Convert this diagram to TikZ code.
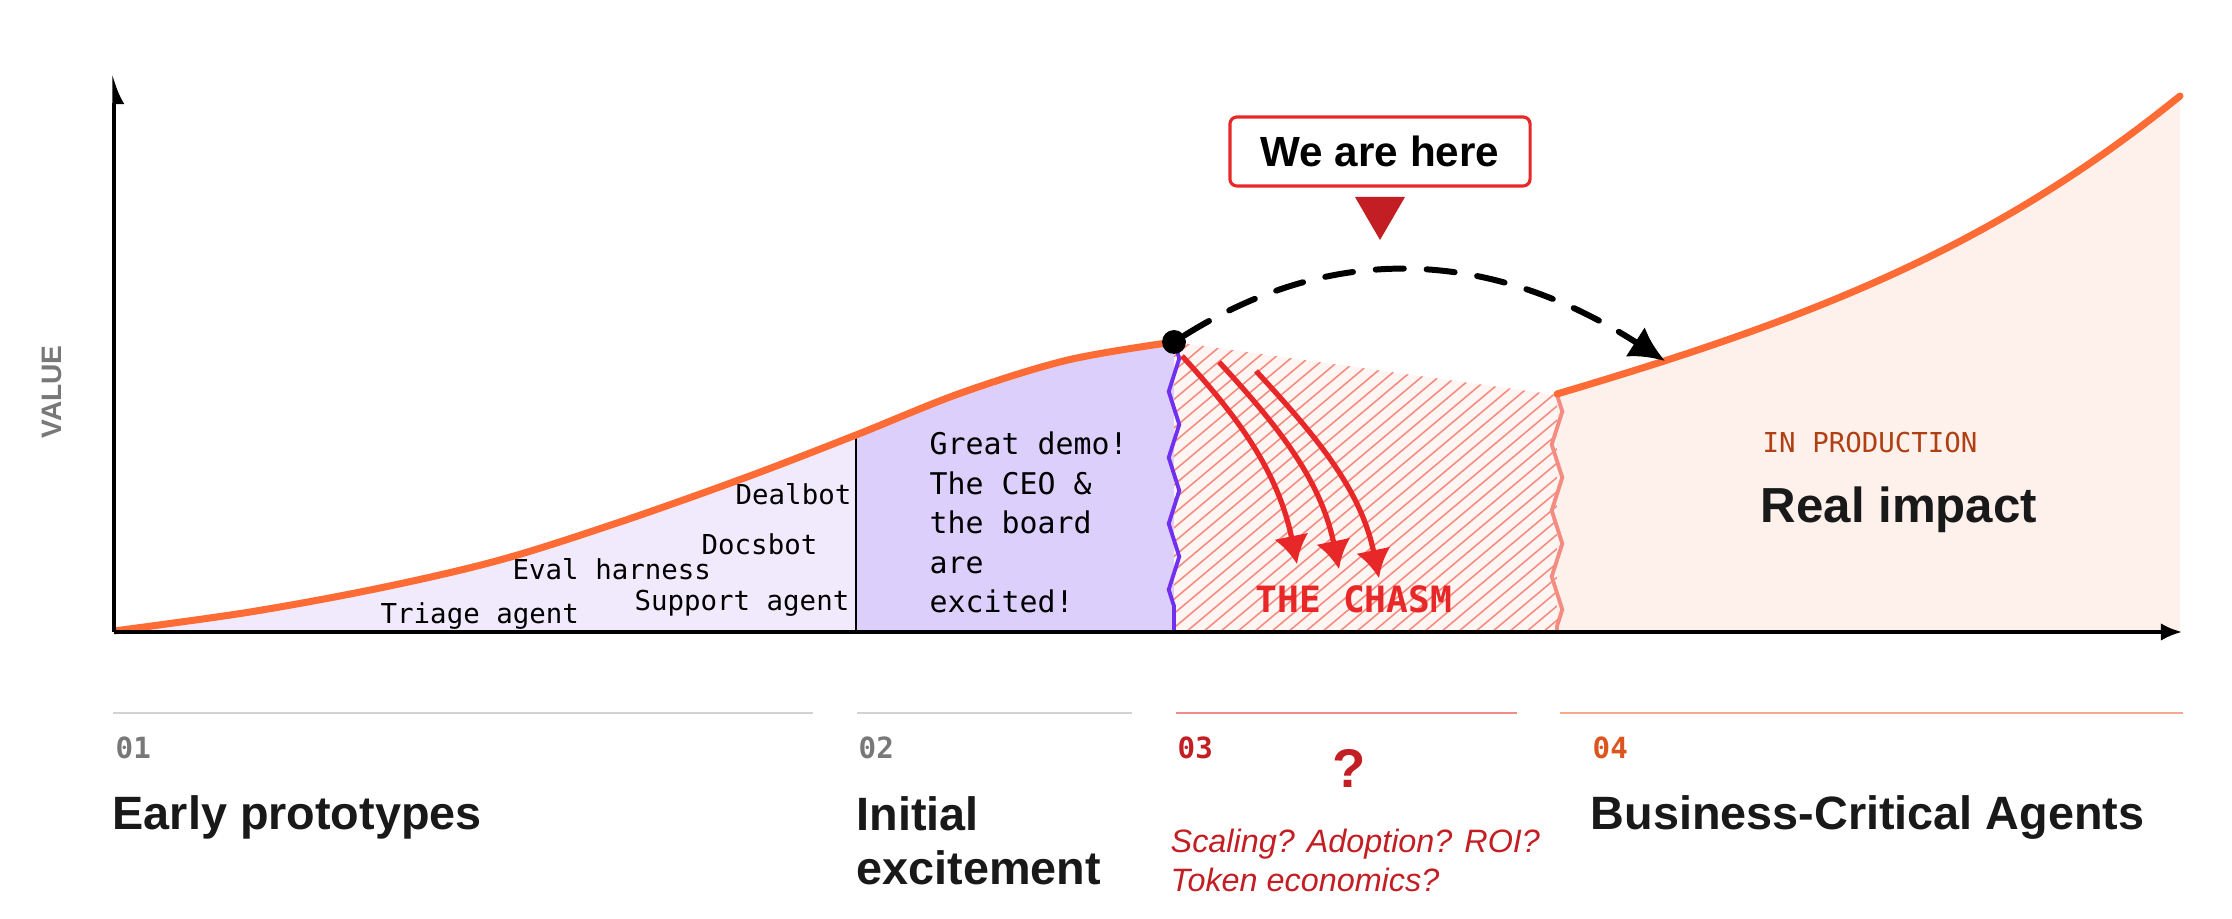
\documentclass[tikz,border=0pt]{standalone}
\usepackage{fontspec}
\setmainfont{Liberation Sans}
\setmonofont{DejaVu Sans Mono}
\usetikzlibrary{arrows.meta,decorations.pathmorphing,positioning}

\definecolor{curveorange}{RGB}{255,107,53}
\definecolor{lavlight}{RGB}{241,234,253}
\definecolor{lavmid}{RGB}{221,207,251}
\definecolor{edgepurple}{RGB}{112,48,240}
\definecolor{chasmpink}{RGB}{255,246,244}
\definecolor{hatchred}{RGB}{246,140,128}
\definecolor{edgesalmon}{RGB}{244,140,130}
\definecolor{prodpeach}{RGB}{254,241,235}
\definecolor{fallred}{RGB}{232,40,40}
\definecolor{markred}{RGB}{195,30,35}
\definecolor{rulegray}{RGB}{210,210,210}
\definecolor{rulered}{RGB}{240,140,135}
\definecolor{ruleorange}{RGB}{246,170,140}
\definecolor{numgray}{RGB}{120,120,120}
\definecolor{numorange}{RGB}{220,85,30}
\definecolor{prodbrown}{RGB}{176,64,20}
\definecolor{inkdark}{RGB}{25,25,25}

\newcommand{\tagfont}{\ttfamily\fontsize{7.8}{9}\selectfont}
\newcommand{\demofont}{\ttfamily\fontsize{8.5}{11.24}\selectfont}
\newcommand{\numfont}{\ttfamily\bfseries\fontsize{8.3}{10}\selectfont}
\newcommand{\headfont}{\bfseries\fontsize{13.3}{15.6}\selectfont}
\newcommand{\riseline}{plot[smooth,tension=0.55] coordinates {(114,631) (250,612) (380,588) (500,560) (620,522) (747,477) (856,435) (961,393) (1068,360) (1174,342)}}
\newcommand{\climbline}{(1557,394) .. controls (1807,320) and (1990,250) .. (2180,96)}

\begin{document}
\begin{tikzpicture}[x=0.01cm, y=-0.01cm, inner sep=0pt,
  tag/.style={font=\tagfont, anchor=base east},
  num/.style={font=\numfont, anchor=base west},
  head/.style={font=\headfont, text=inkdark, anchor=base west, align=left},
  fall/.style={fallred, line width=1.5pt, -{Latex[length=8pt,width=10pt]}},
  edge/.style={line width=1.1pt, decorate, decoration={zigzag, segment length=0.66cm, amplitude=1.5pt}},
  rule/.style={line width=0.85pt}]
\useasboundingbox (0,0) rectangle (2232,919);

\coordinate (origin) at (114,632);
\coordinate (xend) at (2182,632);
\coordinate (yend) at (114,74);
\coordinate (split) at (856,435);
\coordinate (splitfoot) at (856,632);
\coordinate (brink) at (1174,342);
\coordinate (brinkfoot) at (1174,632);
\coordinate (ledge) at (1557,395);
\coordinate (ledgefoot) at (1557,632);
\coordinate (land) at (1665,361);

\fill[lavlight] \riseline |- (origin) -- cycle;
\begin{scope}
\clip (856,0) rectangle (1174,632);
\fill[lavmid] \riseline |- (origin) -- cycle;
\end{scope}

\fill[chasmpink] (brink) -- (ledge) -- (ledgefoot) -- (brinkfoot) -- cycle;
\begin{scope}
\clip (brink) -- (ledge) -- (ledgefoot) -- (brinkfoot) -- cycle;
\foreach \k in {0,...,45}
  \draw[hatchred, line width=0.45pt] ({829+17*\k},632) -- ++(400,-336);
\end{scope}

\fill[prodpeach] \climbline |- (ledgefoot) -- cycle;

\draw[line width=0.6pt] (split) -- (splitfoot);
\draw[edge, edgepurple] (brink) -- (brinkfoot);
\draw[edge, edgesalmon] (ledge) -- (ledgefoot);

\draw[curveorange, line width=2pt] \riseline;
\draw[curveorange, line width=2pt, line cap=round] \climbline;

\draw[line width=1pt, -{Latex[length=6pt,width=5pt]}] (origin) -- (xend);
\draw[line width=0.9pt, -{Latex[length=7pt,width=6pt,right]}] (origin) -- (yend);

\node[circle, fill=black, minimum size=6.8pt] (now) at (brink) {};
\draw[line width=1.7pt, dash pattern=on 8pt off 6.5pt, line cap=round, -{Latex[length=10pt,width=10pt]}] (now) .. controls (1324,248) and (1480,242) .. (land);

\coordinate (f1) at (1182,356);
\coordinate (t1) at (1297,564);
\coordinate (f2) at (1219,362);
\coordinate (t2) at (1339,569);
\coordinate (f3) at (1256,371);
\coordinate (t3) at (1379,578);
\draw[fall] (f1) .. controls +(61,66) and +(-18,-88) .. (t1);
\draw[fall] (f2) .. controls +(61,66) and +(-18,-88) .. (t2);
\draw[fall] (f3) .. controls +(61,66) and +(-18,-88) .. (t3);
\node[font=\ttfamily\bfseries\fontsize{10.3}{12}\selectfont, text=fallred, anchor=base] (chasm) at (1354,613) {THE CHASM};

\node[draw=fallred, line width=0.9pt, fill=white, rounded corners=2pt, minimum width=3cm, minimum height=0.69cm, font=\bfseries\fontsize{12}{14}\selectfont] (here) at (1380,151.5) {We are here};
\fill[markred] (1355,197) -- (1405,197) -- (1380,240) -- cycle;

\node[tag, anchor=base west] (triage) at (380,624) {Triage agent};
\node[tag, anchor=base west] (eval) at (512,580) {Eval harness};
\node[tag] (support) at (850,611) {Support agent};
\node[tag] (docs) at (818,555) {Docsbot};
\node[tag] (deal) at (852,505) {Dealbot};
\node[font=\demofont, align=left, anchor=base west] (demo) at (929,613) {Great demo!\\The CEO \&\\the board\\are\\excited!};

\node[font=\tagfont, text=prodbrown, anchor=base west] (prod) at (1762,453) {IN PRODUCTION};
\node[font=\bfseries\fontsize{14}{16}\selectfont, text=inkdark, anchor=base west] (impact) at (1760,523) {Real impact};

\node[rotate=90, font=\bfseries\fontsize{8}{9}\selectfont, text=numgray] (value) at (52,392) {VALUE};

\draw[rule, rulegray] (113,713) -- (813,713);
\draw[rule, rulegray] (857,713) -- (1132,713);
\draw[rule, rulered] (1176,713) -- (1517,713);
\draw[rule, ruleorange] (1560,713) -- (2183,713);

\node[num, text=numgray] (n1) at (115,759) {01};
\node[num, text=numgray] (n2) at (858,759) {02};
\node[num, text=markred] (n3) at (1177,759) {03};
\node[num, text=numorange] (n4) at (1592,759) {04};

\node[head] (h1) at (112,830) {Early prototypes};
\node[head] (h2) at (856,885) {Initial\\excitement};
\node[head] (h4) at (1590,830) {Business-Critical Agents};
\node[font=\bfseries\fontsize{15.5}{17}\selectfont, text=markred, anchor=base] (qmark) at (1349,788) {?};
\node[font=\itshape\fontsize{9.2}{11.1}\selectfont, text=markred, anchor=base west, align=left] (asks) at (1170,892) {Scaling? Adoption? ROI?\\Token economics?};
\end{tikzpicture}
\end{document}
